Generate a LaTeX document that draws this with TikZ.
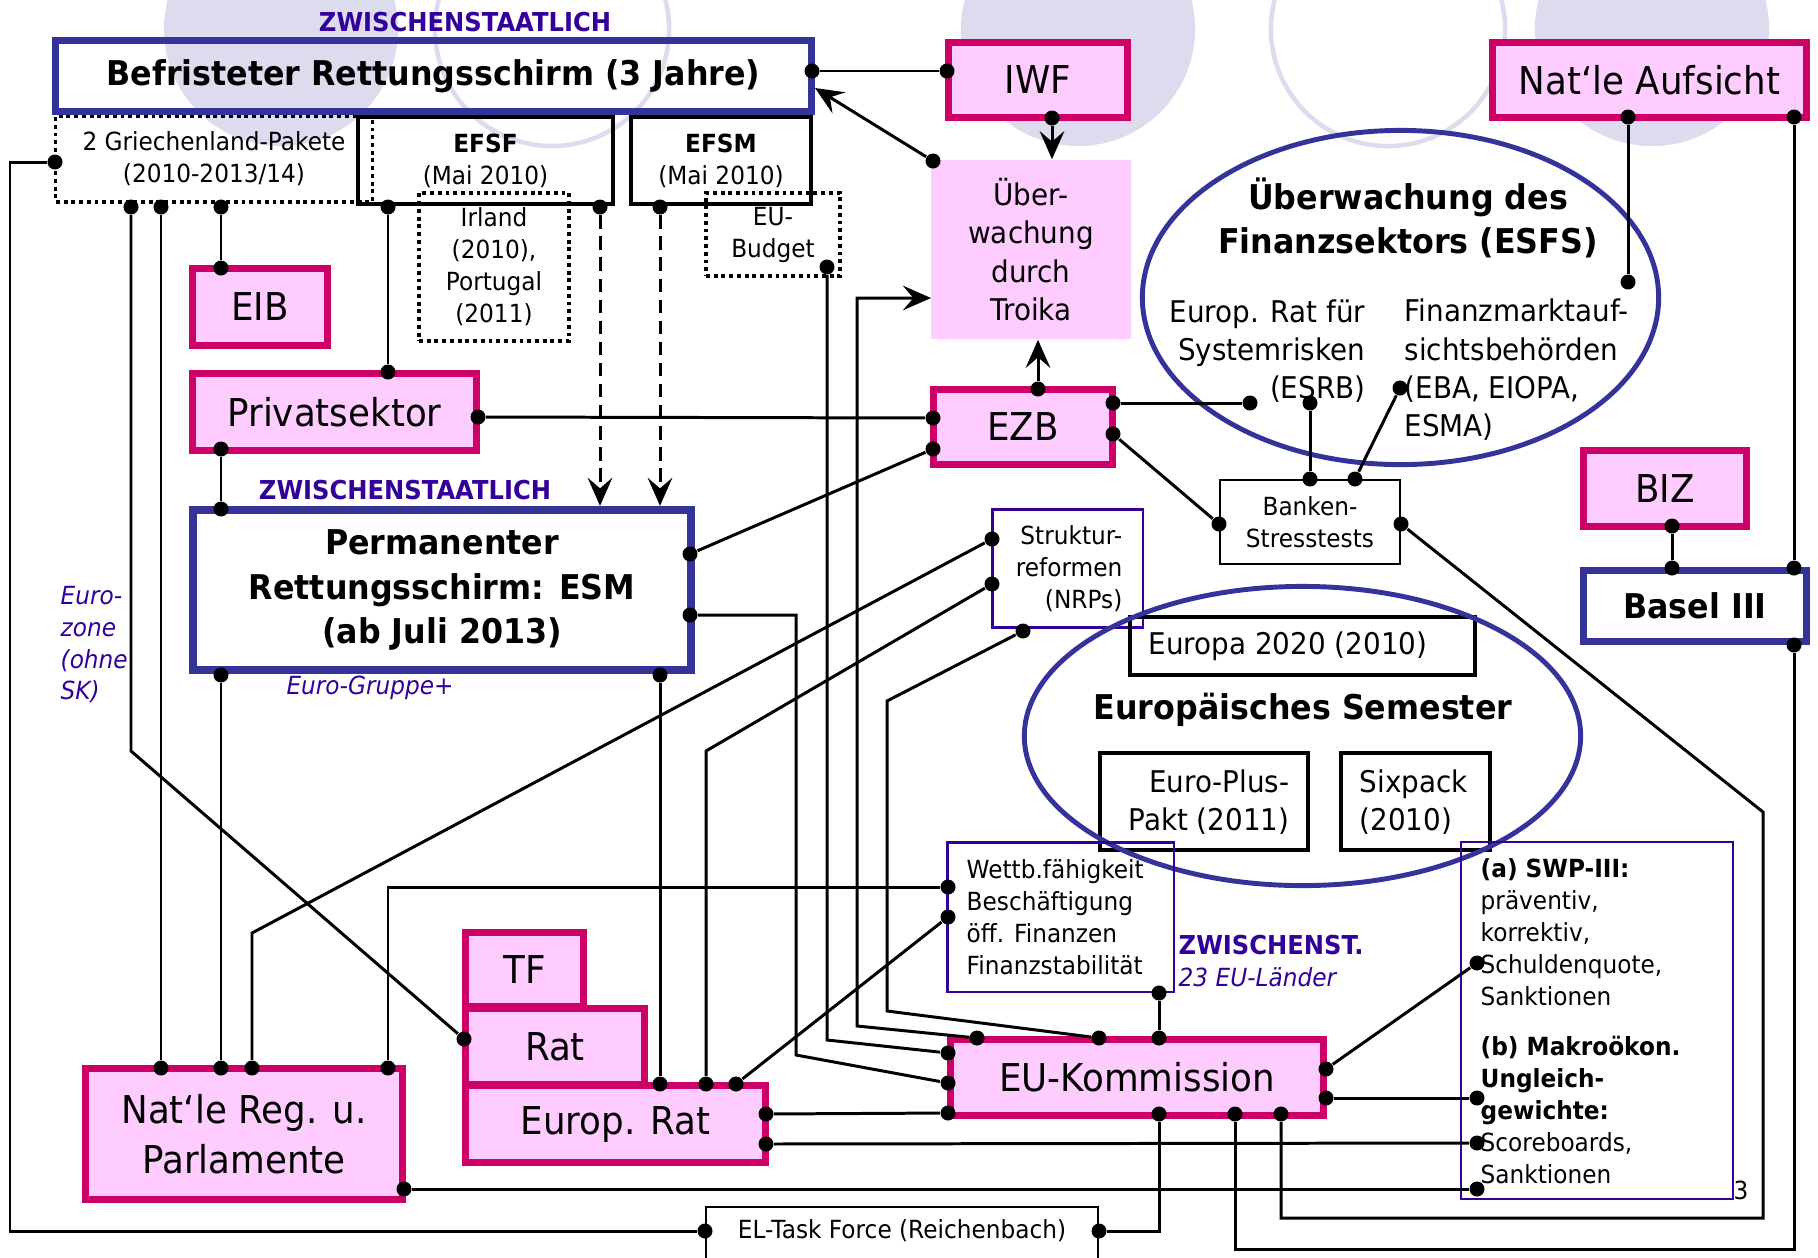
\documentclass[tikz,border=0pt]{standalone}
\usepackage{fontspec}
\setmainfont{DejaVu Sans}[FakeStretch=0.93]
\usetikzlibrary{arrows.meta,shapes.geometric}
\definecolor{natred}{HTML}{CC0066}
\definecolor{natpink}{HTML}{FFCCFF}
\definecolor{schirmblue}{HTML}{333399}
\definecolor{labpurple}{HTML}{330099}
\definecolor{backlav}{HTML}{DCDCEE}
\tikzset{
  bigtext/.style={font=\fontsize{10.9}{14.2}\selectfont},
  titletext/.style={font=\bfseries\fontsize{9.7}{12.6}\selectfont},
  midtext/.style={font=\fontsize{8.5}{10.9}\selectfont},
  smalltext/.style={font=\fontsize{7.1}{9.1}\selectfont},
  natbox/.style={draw=natred, fill=natpink, line width=2pt, inner sep=0pt, bigtext, align=center},
  bluebox/.style={draw=schirmblue, line width=2pt, inner sep=0pt, titletext, align=center},
  blackbox/.style={draw=black, line width=1.3pt, inner sep=0pt, smalltext, align=center},
  purplebox/.style={draw=labpurple, line width=0.6pt, inner sep=0pt},
  thinbox/.style={draw=black, line width=0.7pt, inner sep=0pt, smalltext, align=center},
  dotbox/.style={draw=black, dash pattern=on 1.1pt off 1.1pt, line width=0.9pt, inner sep=0pt, smalltext, align=center},
  zwlabel/.style={text=labpurple, font=\bfseries\fontsize{7.4}{9}\selectfont, inner sep=0pt},
  grouplabel/.style={text=labpurple, font=\itshape\fontsize{7.1}{9}\selectfont, inner sep=0pt, align=left},
  plain/.style={inner sep=0pt},
  knob/.style={circle, fill=black, inner sep=0pt, minimum size=1.5mm},
  wire/.style={line width=0.85pt},
  dashwire/.style={wire, dash pattern=on 3.8pt off 2.2pt},
}

\begin{document}
\begin{tikzpicture}[x=0.01cm, y=-0.01cm, >={Stealth[length=8pt,width=7pt,inset=3pt]}]
  \useasboundingbox (0,0) rectangle (1818,1257);
  \clip (0,0) rectangle (1818,1257);

  % background circles
  \fill[backlav] (281,29) circle[radius=1.17cm];
  \draw[backlav, line width=1.3pt] (552,29) circle[radius=1.17cm];
  \fill[backlav] (1078,29) circle[radius=1.17cm];
  \draw[backlav, line width=1.3pt] (1388,29) circle[radius=1.17cm];
  \fill[backlav] (1652,29) circle[radius=1.17cm];

  % rescue funds
  \node[zwlabel] (zwtop) at (465,22) {ZWISCHENSTAATLICH};
  \node[dotbox, minimum width=3.16cm, minimum height=0.86cm] (griech) at (214,159) {2 Griechenland-Pakete\\(2010-2013/14)};
  \node[bluebox, minimum width=7.56cm, minimum height=0.71cm] (befr) at (433.5,76) {Befristeter Rettungsschirm (3 Jahre)};
  \node[blackbox, minimum width=2.55cm, minimum height=0.87cm] (efsf) at (485.5,160.5) {\textbf{EFSF}\\(Mai 2010)};
  \node[blackbox, minimum width=1.80cm, minimum height=0.87cm] (efsm) at (721,160.5) {\textbf{EFSM}\\(Mai 2010)};
  \node[dotbox, minimum width=1.50cm, minimum height=1.48cm] (irland) at (494,267) {Irland\\(2010),\\Portugal\\(2011)};
  \node[dotbox, minimum width=1.34cm, minimum height=0.83cm] (budget) at (773,234.5) {EU-\\Budget};
  \node[natbox, minimum width=1.35cm, minimum height=0.77cm] (eib) at (260,307) {EIB};
  \node[natbox, minimum width=2.84cm, minimum height=0.77cm] (priv) at (334.5,412) {Privatsektor};
  \node[zwlabel] (zwesm) at (405,490) {ZWISCHENSTAATLICH};
  \node[bluebox, line width=2.3pt, minimum width=4.98cm, minimum height=1.60cm] (esm) at (442,590) {Permanenter\\Rettungsschirm: ESM\\(ab Juli 2013)};
  \node[grouplabel] (eurogr) at (370,688) {Euro-Gruppe+};
  \node[grouplabel, anchor=west] (eurozone) at (60,645) {Euro-\\zone\\(ohne\\SK)};

  % troika and supervision
  \node[natbox, minimum width=1.79cm, minimum height=0.75cm] (iwf) at (1038,80) {IWF};
  \node[fill=natpink, inner sep=0pt, minimum width=2.0cm, minimum height=1.79cm, midtext, align=center] (troika) at (1031,249.5) {Über-\\wachung\\durch\\Troika};
  \node[natbox, minimum width=1.79cm, minimum height=0.75cm] (ezb) at (1023,427) {EZB};
  \node[natbox, minimum width=3.14cm, minimum height=0.75cm] (aufsicht) at (1649.5,80) {Nat`le Aufsicht};
  \node[ellipse, draw=schirmblue, line width=1.4pt, inner sep=0pt, minimum width=5.16cm, minimum height=3.34cm] (esfs) at (1400.5,297.5) {};
  \node[titletext, align=center, inner sep=0pt] (esfstitle) at (1408,218) {Überwachung des\\Finanzsektors (ESFS)};
  \node[midtext, align=right, inner sep=0pt, anchor=east] (esrb) at (1366,351) {Europ. Rat für\\Systemrisken\\(ESRB)};
  \node[midtext, align=left, inner sep=0pt, anchor=west] (esas) at (1404,370) {Finanzmarktauf-\\sichtsbehörden\\(EBA, EIOPA,\\ESMA)};
  \node[thinbox, minimum width=1.80cm, minimum height=0.84cm] (banken) at (1310,522) {Banken-\\Stresstests};
  \node[natbox, minimum width=1.63cm, minimum height=0.76cm] (biz) at (1665,488.5) {BIZ};
  \node[bluebox, minimum width=2.23cm, minimum height=0.71cm] (basel) at (1695,606) {Basel III};

  % semester
  \node[purplebox, minimum width=1.50cm, minimum height=1.18cm] (struktur) at (1067.5,568.5) {};
  \node[smalltext, align=right, inner sep=0pt, anchor=east] (strukturtext) at (1123,569) {Struktur-\\reformen\\(NRPs)};
  \node[blackbox, minimum width=3.45cm, minimum height=0.58cm] (europa) at (1302.5,646) {};
  \node[midtext, inner sep=0pt, anchor=west] (europatext) at (1148,646) {Europa 2020 (2010)};
  \node[blackbox, minimum width=2.08cm, minimum height=0.97cm] (europlus) at (1204,801.5) {};
  \node[midtext, align=right, inner sep=0pt, anchor=east] (europlustext) at (1290,802) {Euro-Plus-\\Pakt (2011)};
  \node[blackbox, minimum width=1.49cm, minimum height=0.97cm] (sixpack) at (1415.5,801.5) {};
  \node[midtext, align=left, inner sep=0pt, anchor=west] (sixpacktext) at (1359,802) {Sixpack\\(2010)};
  \node[ellipse, draw=schirmblue, line width=1.4pt, inner sep=0pt, minimum width=5.56cm, minimum height=2.99cm] (semester) at (1302.5,736) {};
  \node[titletext, inner sep=0pt] (semestertitle) at (1303,710) {Europäisches Semester};
  \node[purplebox, minimum width=2.26cm, minimum height=1.49cm] (wettb) at (1060.5,917) {};
  \node[smalltext, align=left, inner sep=0pt, anchor=west] (wettbtext) at (966,917) {Wettb.fähigkeit\\Beschäftigung\\öff. Finanzen\\Finanzstabilität};
  \node[zwlabel, anchor=west] (zwst) at (1178,945) {ZWISCHENST.};
  \node[grouplabel, anchor=west] (eu23) at (1178,977) {23 EU-Länder};
  \node[purplebox, minimum width=2.71cm, minimum height=3.56cm] (swp) at (1597,1020.5) {};
  \node[smalltext, align=left, inner sep=0pt, anchor=west] (swptext) at (1480,1021) {\textbf{(a) SWP-III:}\\präventiv,\\korrektiv,\\Schuldenquote,\\Sanktionen\\[5pt]\textbf{(b) Makroökon.}\\\textbf{Ungleich-}\\\textbf{gewichte:}\\Scoreboards,\\Sanktionen};
  \node[smalltext, inner sep=0pt] (slidenum) at (1741,1190) {3};

  % councils and commission
  \node[natbox, minimum width=1.18cm, minimum height=0.74cm] (tf) at (524.5,969.5) {TF};
  \node[natbox, minimum width=1.79cm, minimum height=0.76cm] (rat) at (555,1046.5) {Rat};
  \node[natbox, minimum width=3.00cm, minimum height=0.77cm] (europrat) at (615.5,1124) {Europ. Rat};
  \node[natbox, minimum width=3.17cm, minimum height=1.31cm] (natreg) at (244,1134) {Nat`le Reg. u.\\Parlamente};
  \node[natbox, minimum width=3.73cm, minimum height=0.76cm] (euk) at (1137,1077.5) {EU-Kommission};
  \node[thinbox, minimum width=3.92cm, minimum height=0.82cm] (eltf) at (902,1248) {};
  \node[smalltext, inner sep=0pt] (elftext) at (902,1231) {EL-Task Force (Reichenbach)};

  % knobs
  \node[knob] (befrR) at (812,71) {};
  \node[knob] (iwfL) at (947,71) {};
  \node[knob] (iwfB) at (1052,118) {};
  \node[knob] (troTL) at (933,161) {};
  \node[knob] (grL) at (55,162) {};
  \node[knob] (grB1) at (131,207) {};
  \node[knob] (grB2) at (161,207) {};
  \node[knob] (grB3) at (221,207) {};
  \node[knob] (efsfB1) at (388,207) {};
  \node[knob] (efsfB2) at (600,207) {};
  \node[knob] (efsmB) at (660,207) {};
  \node[knob] (budB) at (827,267) {};
  \node[knob] (eibT) at (221,268) {};
  \node[knob] (privT) at (388,372) {};
  \node[knob] (privB) at (221,449) {};
  \node[knob] (privR) at (478,417) {};
  \node[knob] (esmT) at (221,509) {};
  \node[knob] (esmR1) at (690,554) {};
  \node[knob] (esmR2) at (690,615) {};
  \node[knob] (esmB1) at (221,675) {};
  \node[knob] (esmB2) at (660,675) {};
  \node[knob] (ezbT) at (1038,389) {};
  \node[knob] (ezbL1) at (933,418) {};
  \node[knob] (ezbL2) at (933,449) {};
  \node[knob] (ezbR1) at (1113,403) {};
  \node[knob] (ezbR2) at (1113,434) {};
  \node[knob] (esfs1) at (1250,403) {};
  \node[knob] (esfs2) at (1310,403) {};
  \node[knob] (esfs3) at (1400,388) {};
  \node[knob] (esfs4) at (1628,282) {};
  \node[knob] (aufB1) at (1628,117) {};
  \node[knob] (aufB2) at (1794,117) {};
  \node[knob] (bnkT1) at (1310,479) {};
  \node[knob] (bnkT2) at (1355,479) {};
  \node[knob] (bnkL) at (1219,524) {};
  \node[knob] (bnkR) at (1401,524) {};
  \node[knob] (bizB) at (1672,526) {};
  \node[knob] (basT1) at (1672,568) {};
  \node[knob] (basT2) at (1794,568) {};
  \node[knob] (basB) at (1794,645) {};
  \node[knob] (strL1) at (992,539) {};
  \node[knob] (strL2) at (992,584) {};
  \node[knob] (strB) at (1023,631) {};
  \node[knob] (wetL1) at (948,887) {};
  \node[knob] (wetL2) at (948,917) {};
  \node[knob] (wetB) at (1159,993) {};
  \node[knob] (natT1) at (161,1068) {};
  \node[knob] (natT2) at (221,1068) {};
  \node[knob] (natT3) at (252,1068) {};
  \node[knob] (natT4) at (388,1068) {};
  \node[knob] (natR) at (404,1189) {};
  \node[knob] (ratL) at (464,1039) {};
  \node[knob] (erT1) at (660,1084) {};
  \node[knob] (erT2) at (706,1084) {};
  \node[knob] (erT3) at (736,1084) {};
  \node[knob] (erR1) at (766,1114) {};
  \node[knob] (erR2) at (766,1144) {};
  \node[knob] (ekT1) at (977,1038) {};
  \node[knob] (ekT2) at (1099,1038) {};
  \node[knob] (ekT3) at (1159,1038) {};
  \node[knob] (ekL1) at (948,1053) {};
  \node[knob] (ekL2) at (948,1083) {};
  \node[knob] (ekL3) at (948,1113) {};
  \node[knob] (ekB1) at (1159,1114) {};
  \node[knob] (ekB2) at (1235,1114) {};
  \node[knob] (ekB3) at (1281,1114) {};
  \node[knob] (ekR1) at (1326,1069) {};
  \node[knob] (ekR2) at (1326,1098) {};
  \node[knob] (swp1) at (1477,963) {};
  \node[knob] (swp2) at (1477,1098) {};
  \node[knob] (swp3) at (1477,1143) {};
  \node[knob] (swp4) at (1477,1189) {};
  \node[knob] (elL) at (705,1231) {};
  \node[knob] (elR) at (1099,1231) {};
  \coordinate (befrin) at (815,88);
  \coordinate (troin) at (931,298);

  % connectors
  \draw[wire] (befrR) -- (iwfL);
  \draw[wire,->] (troTL) -- (befrin);
  \draw[wire,->] (iwfB) -- (iwfB |- troika.north);
  \draw[wire,->] (ezbT) -- (ezbT |- troika.south);
  \draw[wire,->] (ekT1) -- (857,1026) -- (857,298) -- (troin);
  \draw[wire] (budB) -- (827,1040) -- (ekL1);
  \draw[wire] (esmR2) -- (796,615) -- (796,1055) -- (ekL2);
  \draw[wire] (strB) -- (887,701) -- (887,1011) -- (ekT2);
  \draw[wire] (strL1) -- (252,933) -- (natT3);
  \draw[wire] (strL2) -- (706,751) -- (erT2);
  \draw[wire] (wetL1) -| (natT4);
  \draw[wire] (wetL2) -- (erT3);
  \draw[wire] (wetB) -- (ekT3);
  \draw[wire] (esmB2) -- (erT1);
  \draw[wire] (esmB1) -- (natT2);
  \draw[wire] (grB2) -- (natT1);
  \draw[wire] (grB1) -- (131,751) -- (ratL);
  \draw[wire] (grB3) -- (eibT);
  \draw[wire] (privB) -- (esmT);
  \draw[wire] (efsfB1) -- (privT);
  \draw[dashwire,->] (efsfB2) -- (efsfB2 |- esm.north);
  \draw[dashwire,->] (efsmB) -- (efsmB |- esm.north);
  \draw[wire] (privR) -- (ezbL1);
  \draw[wire] (esmR1) -- (ezbL2);
  \draw[wire] (ezbR1) -- (esfs1);
  \draw[wire] (ezbR2) -- (bnkL);
  \draw[wire] (esfs2) -- (bnkT1);
  \draw[wire] (esfs3) -- (bnkT2);
  \draw[wire] (aufB1) -- (esfs4);
  \draw[wire] (aufB2) -- (basT2);
  \draw[wire] (bizB) -- (basT1);
  \draw[wire] (bnkR) -- (1763,812) -- (1763,1218) -| (ekB3);
  \draw[wire] (basB) -- (1794,1249) -| (ekB2);
  \draw[wire] (ekB1) |- (elR);
  \draw[wire] (grL) -- (10,162) -- (10,1231) -- (elL);
  \draw[wire] (ekR1) -- (swp1);
  \draw[wire] (ekR2) -- (swp2);
  \draw[wire] (erR1) -- (ekL3);
  \draw[wire] (erR2) -- (swp3);
  \draw[wire] (natR) -- (swp4);
\end{tikzpicture}
\end{document}
